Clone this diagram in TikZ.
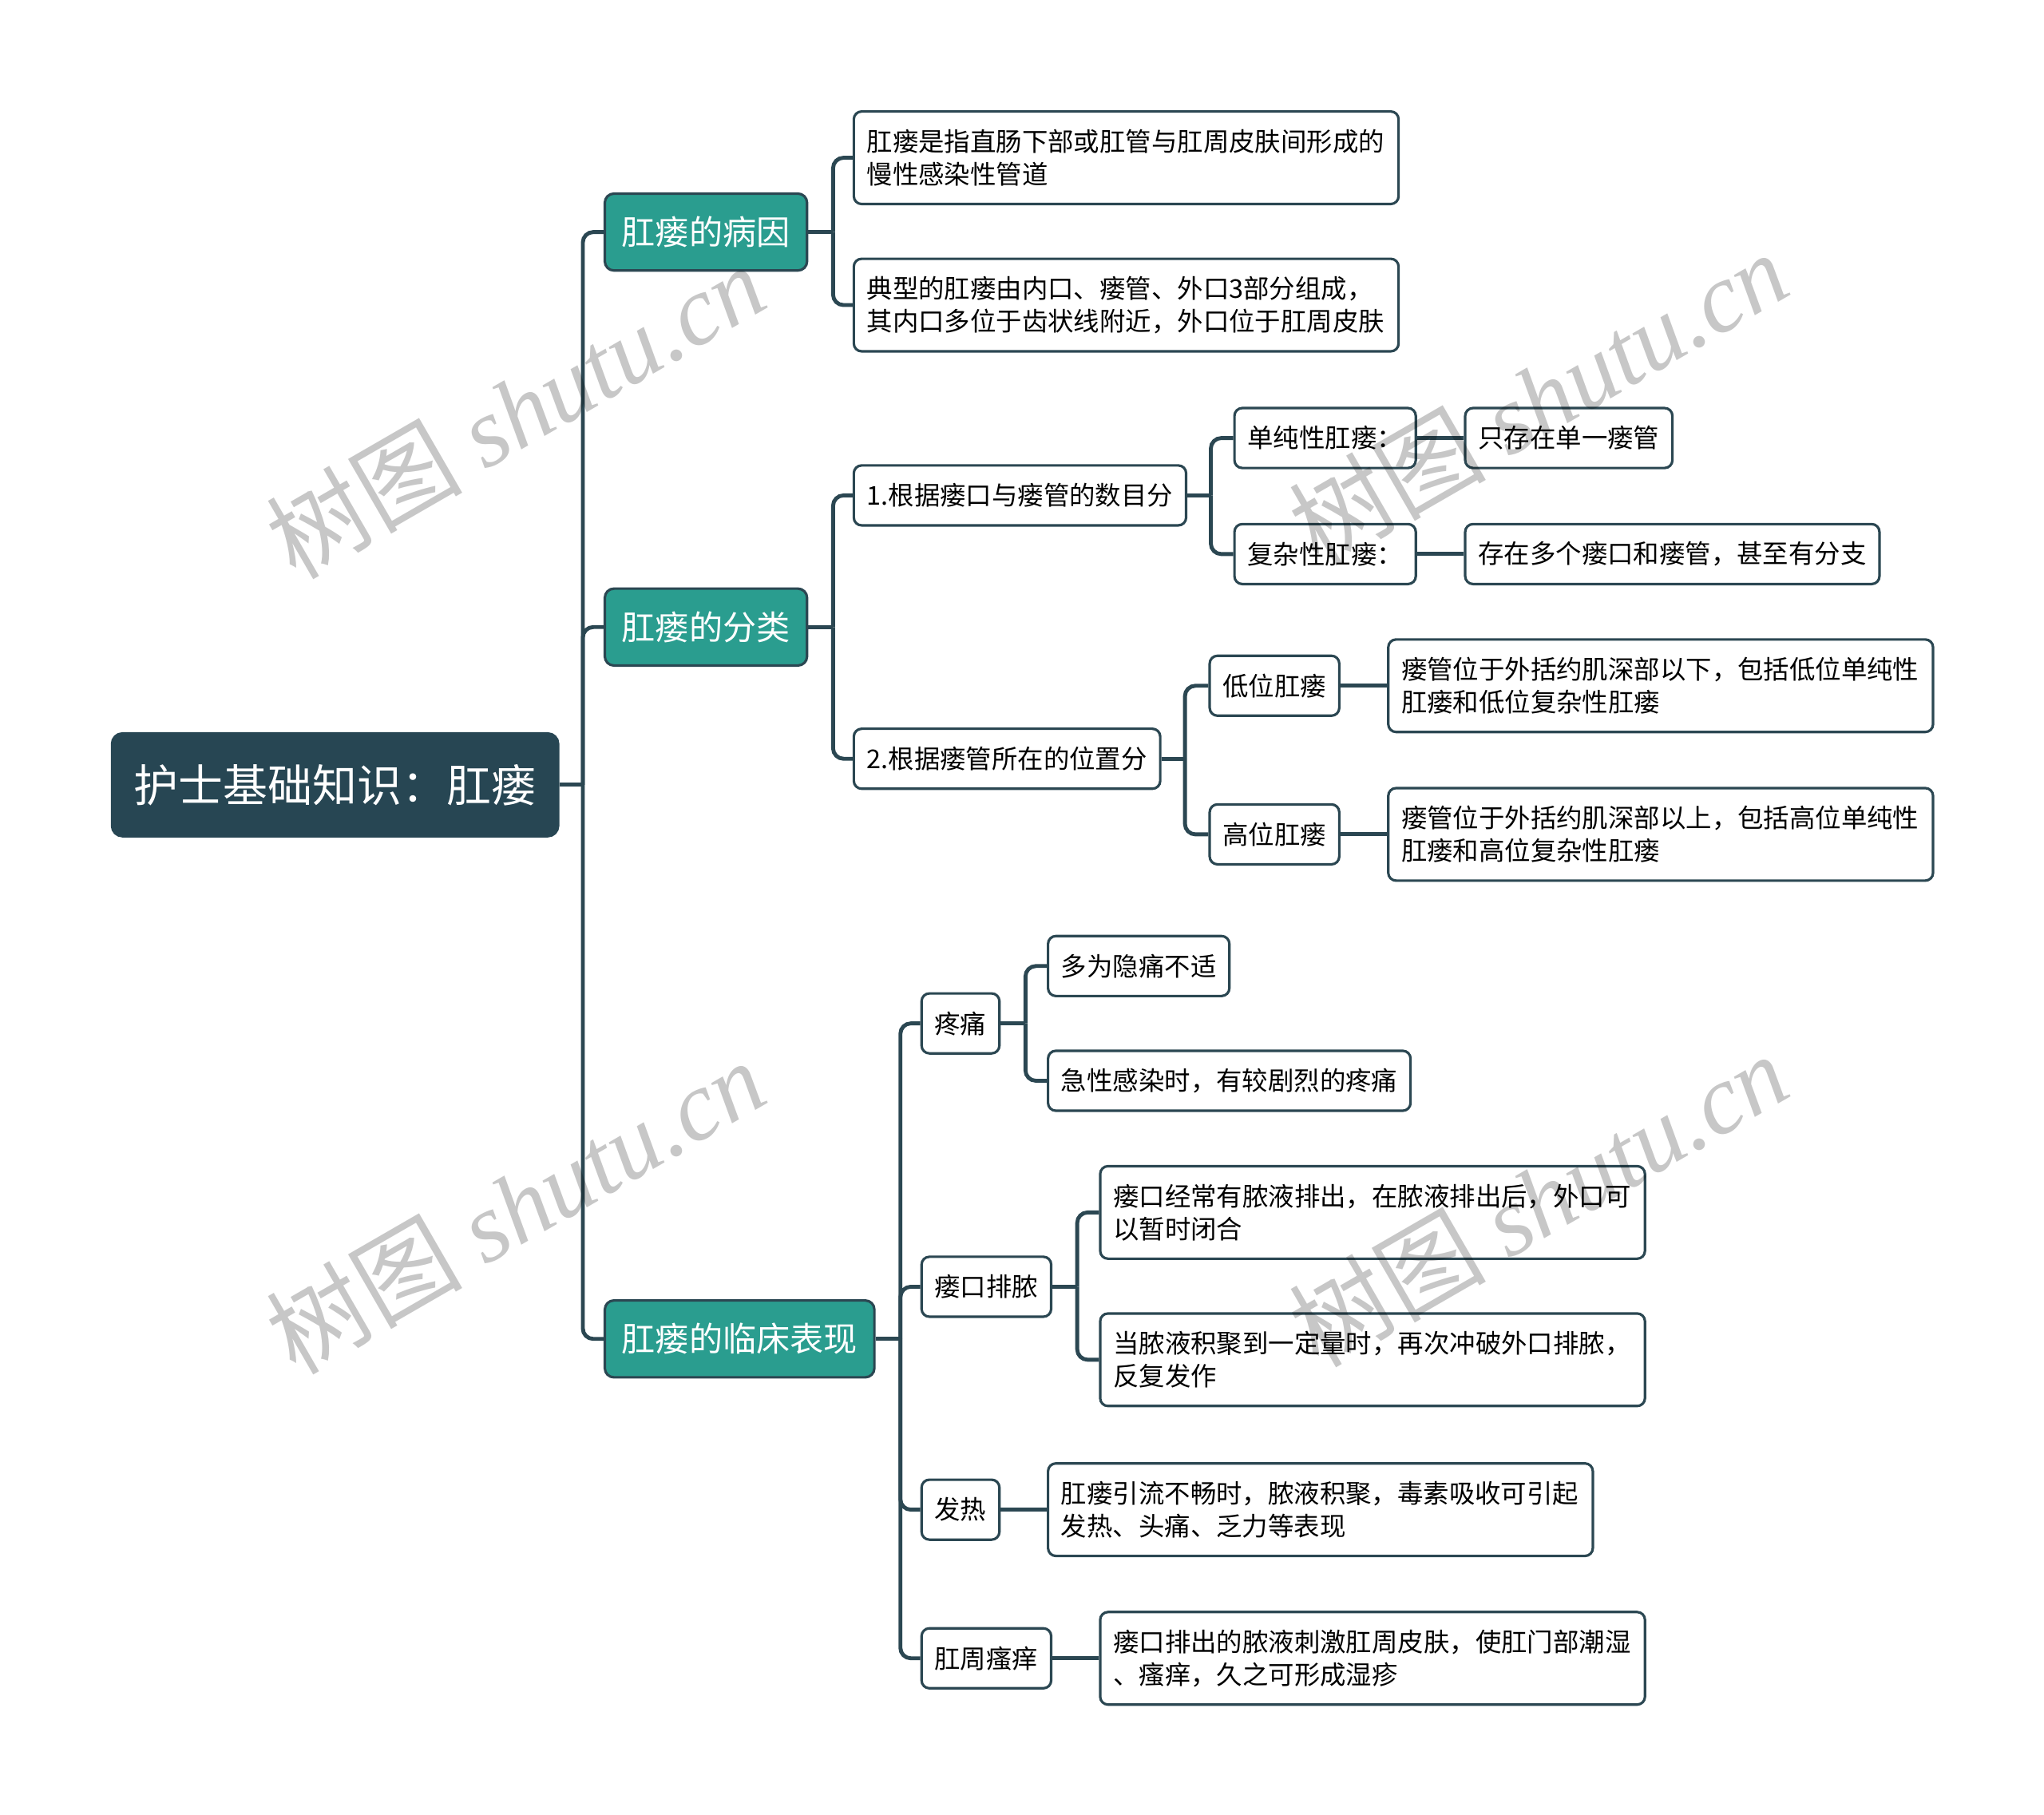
\documentclass[tikz,border=0pt]{standalone}
\usepackage{fontspec}
\setmainfont{Noto Sans CJK SC}
\newfontfamily\wmserif{Liberation Serif}
\definecolor{linec}{HTML}{2B4752}
\definecolor{rootc}{HTML}{274653}
\definecolor{tealc}{HTML}{2A9D8F}
\begin{document}
\begin{tikzpicture}[x=0.02cm,y=-0.02cm,
  conn/.style={draw=linec, line width=1.7pt},
  bus/.style={conn, rounded corners=0.16cm},
  leaf/.style={draw=linec, line width=1.1pt, fill=white, rounded corners=0.12cm,
    inner xsep=0.2cm, inner ysep=0pt, minimum height=0.92cm,
    font=\fontsize{11.3}{14.2}\selectfont, anchor=west},
  wide/.style={leaf, text width=7.96cm, align=left, minimum height=1.42cm},
  lvl/.style={draw=linec, line width=1.1pt, fill=tealc, text=white, rounded corners=0.14cm,
    inner xsep=0.26cm, inner ysep=0pt, minimum height=1.18cm,
    font=\fontsize{14.7}{17}\selectfont, anchor=west},
  rootn/.style={fill=rootc, draw=rootc, line width=1pt, text=white, rounded corners=0.16cm,
    inner xsep=0.34cm, inner ysep=0pt, minimum height=1.58cm,
    font=\fontsize{19.5}{22}\selectfont, anchor=west},
  wm/.style={rotate=30, text=black, opacity=0.22, font=\fontsize{43}{48}\selectfont}
]
\useasboundingbox (0,0) rectangle (1568,1392);

% nodes
\node[rootn] (root) at (85,602) {护士基础知识：肛瘘};
\node[lvl] (c1) at (463,178) {肛瘘的病因};
\node[lvl] (c2) at (463,481) {肛瘘的分类};
\node[lvl] (c3) at (463,1027) {肛瘘的临床表现};

\node[wide] (c1a) at (654,121) {肛瘘是指直肠下部或肛管与肛周皮肤间形成的\\慢性感染性管道};
\node[wide] (c1b) at (654,234) {典型的肛瘘由内口、瘘管、外口3部分组成，\\其内口多位于齿状线附近，外口位于肛周皮肤};

\node[leaf] (c2a) at (654,380) {1.根据瘘口与瘘管的数目分};
\node[leaf] (c2b) at (654,582) {2.根据瘘管所在的位置分};
\node[leaf] (c2a1) at (946,336) {单纯性肛瘘：};
\node[leaf] (c2a2) at (946,425) {复杂性肛瘘：};
\node[leaf] (c2a1x) at (1123,336) {只存在单一瘘管};
\node[leaf] (c2a2x) at (1123,425) {存在多个瘘口和瘘管，甚至有分支};
\node[leaf] (c2b1) at (927,526) {低位肛瘘};
\node[leaf] (c2b2) at (927,640) {高位肛瘘};
\node[wide] (c2b1x) at (1064,526) {瘘管位于外括约肌深部以下，包括低位单纯性\\肛瘘和低位复杂性肛瘘};
\node[wide] (c2b2x) at (1064,640) {瘘管位于外括约肌深部以上，包括高位单纯性\\肛瘘和高位复杂性肛瘘};

\node[leaf] (c3a) at (706,785) {疼痛};
\node[leaf] (c3b) at (706,987) {瘘口排脓};
\node[leaf] (c3c) at (706,1158) {发热};
\node[leaf] (c3d) at (706,1272) {肛周瘙痒};
\node[leaf] (c3a1) at (803,741) {多为隐痛不适};
\node[leaf] (c3a2) at (803,829) {急性感染时，有较剧烈的疼痛};
\node[wide] (c3b1) at (843,930) {瘘口经常有脓液排出，在脓液排出后，外口可\\以暂时闭合};
\node[wide] (c3b2) at (843,1043) {当脓液积聚到一定量时，再次冲破外口排脓，\\反复发作};
\node[wide] (c3c1) at (803,1158) {肛瘘引流不畅时，脓液积聚，毒素吸收可引起\\发热、头痛、乏力等表现};
\node[wide] (c3d1) at (843,1272) {瘘口排出的脓液刺激肛周皮肤，使肛门部潮湿\\、瘙痒，久之可形成湿疹};

% connectors
\draw[conn] (root.east) -- ++(18,0) coordinate (rb);
\foreach \c in {c1,c2,c3} \draw[bus] (rb) |- (\c.west);

\draw[conn] (c1.east) -- ++(19,0) coordinate (b1);
\foreach \c in {c1a,c1b} \draw[bus] (b1) |- (\c.west);

\draw[conn] (c2.east) -- ++(19,0) coordinate (b2);
\foreach \c in {c2a,c2b} \draw[bus] (b2) |- (\c.west);

\draw[conn] (c2a.east) -- ++(18,0) coordinate (b2a);
\foreach \c in {c2a1,c2a2} \draw[bus] (b2a) |- (\c.west);
\draw[conn] (c2a1.east) -- (c2a1x.west);
\draw[conn] (c2a2.east) -- (c2a2x.west);

\draw[conn] (c2b.east) -- ++(18,0) coordinate (b2b);
\foreach \c in {c2b1,c2b2} \draw[bus] (b2b) |- (\c.west);
\draw[conn] (c2b1.east) -- (c2b1x.west);
\draw[conn] (c2b2.east) -- (c2b2x.west);

\draw[conn] (c3.east) -- ++(19,0) coordinate (b3);
\foreach \c in {c3a,c3b,c3c,c3d} \draw[bus] (b3) |- (\c.west);

\draw[conn] (c3a.east) -- ++(19,0) coordinate (b3a);
\foreach \c in {c3a1,c3a2} \draw[bus] (b3a) |- (\c.west);

\draw[conn] (c3b.east) -- ++(19,0) coordinate (b3b);
\foreach \c in {c3b1,c3b2} \draw[bus] (b3b) |- (\c.west);

\draw[conn] (c3c.east) -- (c3c1.west);
\draw[conn] (c3d.east) -- (c3d1.west);

% watermark
\node[wm] (wm1) at (395,315) {树图 {\wmserif\itshape shutu.cn}};
\node[wm] (wm2) at (395,925) {树图 {\wmserif\itshape shutu.cn}};
\node[wm] (wm3) at (1180,305) {树图 {\wmserif\itshape shutu.cn}};
\node[wm] (wm4) at (1180,920) {树图 {\wmserif\itshape shutu.cn}};
\end{tikzpicture}
\end{document}
